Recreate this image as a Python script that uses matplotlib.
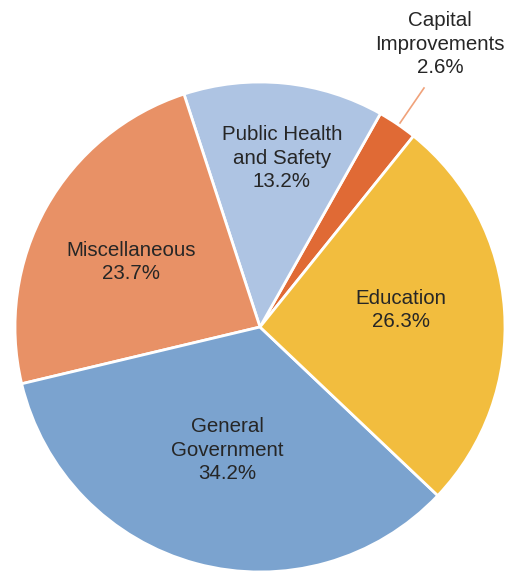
import matplotlib.pyplot as plt

plt.rcParams['font.family'] = ['Liberation Sans', 'DejaVu Sans']

labels = ['Capital\nImprovements', 'Public Health\nand Safety', 'Miscellaneous',
          'General\nGovernment', 'Education']
values = [2.6, 13.2, 23.7, 34.2, 26.3]
colors = ['#E06A35', '#AEC4E3', '#E89166', '#7BA3CF', '#F2BD3E']

# label centres in pixels of the 514x571 image (pie centre 260,327, radius 245)
label_px = [(440, 44), (282, 158), (131, 262), (227, 450), (401, 310)]

fig = plt.figure(figsize=(5.14, 5.71), dpi=100)
cx, cy, r = 260, 327, 245
ax = fig.add_axes([(cx - r) / 514, (571 - cy - r) / 571, 2 * r / 514, 2 * r / 571])
ax.axis('off')

ax.pie(values, colors=colors, startangle=51.2, counterclock=True, radius=1,
       wedgeprops=dict(edgecolor='white', linewidth=2))
ax.set_xlim(-1, 1)
ax.set_ylim(-1, 1)

for lab, val, (px, py) in zip(labels, values, label_px):
    x = (px - cx) / r
    y = (cy - py) / r
    ax.text(x, y, f'{lab}\n{val}%', ha='center', va='center', fontsize=14.8,
            color='#262626', linespacing=1.28, clip_on=False)

# leader line for the small slice
ax.plot([(400 - cx) / r, (424 - cx) / r], [(cy - 123) / r, (cy - 88) / r],
        color='#F0A27A', lw=1.2, clip_on=False)

fig.savefig('out.png', dpi=100)
